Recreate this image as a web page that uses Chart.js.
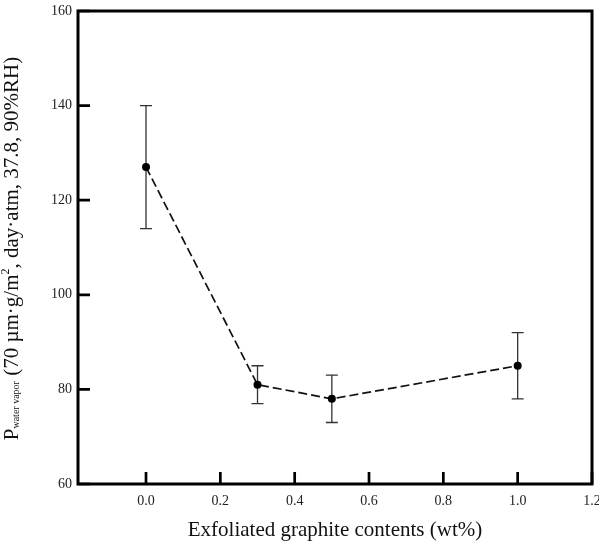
<!DOCTYPE html>
<html>
<head>
<meta charset="utf-8">
<script src="https://cdn.jsdelivr.net/npm/chart.js@4.4.1/dist/chart.umd.min.js"></script>
<style>
  body { margin: 0; background: #fff; }
  #wrap { width: 599px; height: 547px; position: relative; }
</style>
</head>
<body>
<div id="wrap"><canvas id="mainChart"></canvas></div>
<script>
const contents = [0.0, 0.3, 0.5, 1.0];
const permeability = [127, 81, 78, 85];
const errHigh = [140, 85, 83, 92];
const errLow = [114, 77, 73, 78];
const xTickValues = [0.0, 0.2, 0.4, 0.6, 0.8, 1.0, 1.2];
const yTickValues = [60, 80, 100, 120, 140, 160];

const serif = "'Liberation Serif', 'DejaVu Serif', serif";

// frame, inward ticks and error bars
const framePlugin = {
    id: 'frame',
    beforeDatasetsDraw(chart) {
        const { ctx, chartArea: a, scales: { x, y } } = chart;
        ctx.save();
        // error bars
        ctx.strokeStyle = '#333';
        ctx.lineWidth = 1.3;
        contents.forEach((c, i) => {
            const px = x.getPixelForValue(c);
            const top = y.getPixelForValue(errHigh[i]);
            const bot = y.getPixelForValue(errLow[i]);
            ctx.beginPath();
            ctx.moveTo(px, top); ctx.lineTo(px, bot);
            ctx.moveTo(px - 6, top); ctx.lineTo(px + 6, top);
            ctx.moveTo(px - 6, bot); ctx.lineTo(px + 6, bot);
            ctx.stroke();
        });
        // inward ticks
        ctx.strokeStyle = '#000';
        ctx.lineWidth = 2.7;
        ctx.beginPath();
        x.ticks.forEach(t => {
            const px = x.getPixelForValue(t.value);
            ctx.moveTo(px, a.bottom); ctx.lineTo(px, a.bottom - 12);
        });
        y.ticks.forEach(t => {
            const py = y.getPixelForValue(t.value);
            ctx.moveTo(a.left, py); ctx.lineTo(a.left + 12, py);
        });
        ctx.stroke();
        // box
        ctx.lineWidth = 3;
        ctx.strokeRect(a.left, a.top, a.right - a.left, a.bottom - a.top);
        ctx.restore();
    },
    afterDraw(chart) {
        // y title with subscript and superscript
        const { ctx, chartArea: a } = chart;
        const parts = [
            { t: 'P', size: 21, dy: 0 },
            { t: 'water vapor', size: 10, dy: 1 },
            { t: ' (70 \u00b5m\u00b7g/m', size: 21, dy: 0 },
            { t: '2', size: 12, dy: -9 },
            { t: ', day\u00b7atm, 37.8, 90%RH)', size: 21, dy: 0 }
        ];
        ctx.save();
        let total = 0;
        parts.forEach(p => {
            ctx.font = p.size + 'px ' + serif;
            p.w = ctx.measureText(p.t).width;
            total += p.w;
        });
        ctx.translate(18, (a.top + a.bottom) / 2 + 1);
        ctx.rotate(-Math.PI / 2);
        ctx.fillStyle = '#111';
        ctx.textBaseline = 'alphabetic';
        let cx = -total / 2;
        parts.forEach(p => {
            ctx.font = p.size + 'px ' + serif;
            ctx.fillText(p.t, cx, p.dy);
            cx += p.w;
        });
        ctx.restore();
    }
};

new Chart(document.getElementById('mainChart'), {
    type: 'scatter',
    data: {
        datasets: [{
            data: contents.map((c, i) => ({ x: c, y: permeability[i] })),
            showLine: true,
            borderColor: '#111',
            borderWidth: 1.7,
            borderDash: [9, 4],
            pointRadius: 4,
            pointBackgroundColor: '#000',
            pointBorderColor: '#000',
            pointBorderWidth: 0
        }]
    },
    options: {
        responsive: true, maintainAspectRatio: false, animation: false,
        layout: { padding: { top: 11, right: 7, left: 0, bottom: 0 } },
        plugins: { legend: { display: false }, tooltip: { enabled: false } },
        scales: {
            x: {
                type: 'linear', min: -0.183, max: 1.2,
                grid: { display: false, drawTicks: false },
                border: { display: false },
                afterBuildTicks: s => { s.ticks = xTickValues.map(v => ({ value: v })); },
                afterFit: s => { s.height = 63; s.paddingLeft = 0; s.paddingRight = 0; },
                ticks: {
                    padding: 9, color: '#222', maxRotation: 0, autoSkip: false,
                    font: { family: serif, size: 14 },
                    callback: v => v.toFixed(1)
                },
                title: {
                    display: true, text: 'Exfoliated graphite contents (wt%)',
                    color: '#111', font: { family: serif, size: 21 },
                    padding: { top: 0, bottom: 4 }
                }
            },
            y: {
                min: 60, max: 160,
                grid: { display: false, drawTicks: false },
                border: { display: false },
                afterBuildTicks: s => { s.ticks = yTickValues.map(v => ({ value: v })); },
                afterFit: s => { s.width = 78; s.paddingTop = 0; s.paddingBottom = 0; },
                ticks: {
                    padding: 6, color: '#222', autoSkip: false,
                    font: { family: serif, size: 14 }
                }
            }
        }
    },
    plugins: [framePlugin]
});
</script>
</body>
</html>
